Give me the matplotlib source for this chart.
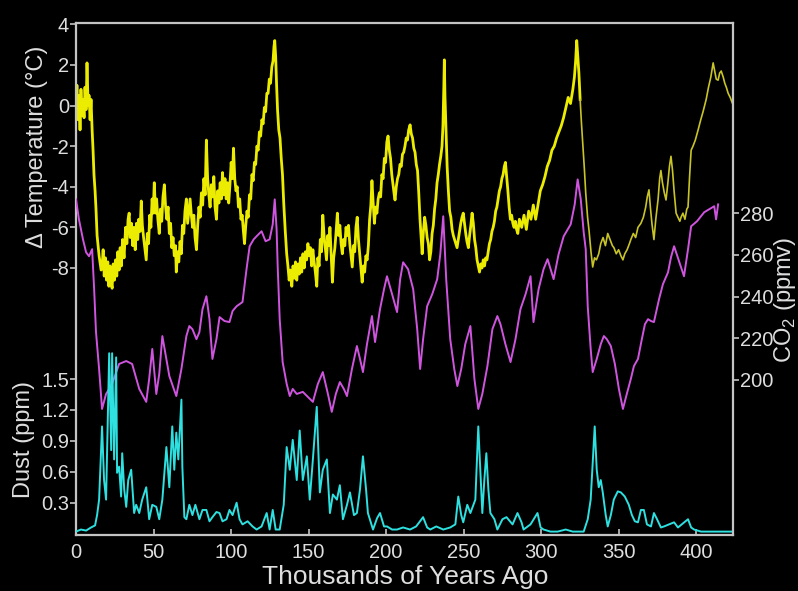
"""
Vostok ice core: temperature, CO2 and dust over the last 420 ky.
Three y scales sharing one frame, black background.
"""
import matplotlib
matplotlib.use("Agg")
import matplotlib.pyplot as plt

plt.rcParams["font.family"] = ["Liberation Sans", "DejaVu Sans"]
plt.rcParams["axes.unicode_minus"] = False

# ── Data ──────────────────────────────────────────────────────────────────────
temp_age = [
    0, 0.6, 1.3, 2.0, 2.6, 3.2, 3.9, 4.5, 5.2, 5.8, 6.5, 7.1, 7.8, 8.4, 9.1, 9.7,
    10.4, 11.0, 11.6, 12.3, 12.9, 13.6, 14.9, 16.2,
    16.8, 17.5, 18.2, 19, 19.7, 20.5, 21.2, 22, 22.7, 23.3, 24, 24.8, 25.5, 26.3,
    27, 27.8, 28.5, 29.3, 30, 31, 32, 32.8, 33.6, 34.3, 35, 35.8, 36.6, 37.4,
    38.2, 39, 39.8, 40.5, 41.3, 42.1, 42.8, 43.6, 44.4, 45.3, 46, 46.8, 47.6,
    48.3, 49.1, 49.8, 50.5, 51.3, 52, 52.8, 53.7, 54.5, 55.3, 56.1, 57, 57.8,
    58.6, 59.4, 60.2, 61, 61.8, 62.6, 63.4, 64.2, 64.7, 65.5, 66.3, 67.1, 67.9,
    68.7, 69.5, 70.3, 71.2, 72, 72.8, 73.6, 74.4, 75.2, 76, 76.8, 77.7, 78.5,
    79.3, 80.1, 80.9, 81.7, 82.5, 83.3, 84.1, 84.9, 85.7, 86.5, 87.3, 88.1,
    88.9, 89.7, 90.6, 91.4, 92.2, 93, 93.8, 94.5, 95.3, 96.1, 96.9, 97.7, 98.5,
    99.3, 100.1, 100.9, 101.6, 102.4, 103.2, 104, 104.8, 105.6, 106.4, 107.2,
    108, 108.7, 109.5, 110.3, 111.1, 111.9, 112.7, 113.5, 114.3, 115.1, 115.9,
    116.7, 117.5, 118.3, 119.1, 119.9, 120.7, 121.5, 122.3, 123.1, 123.9, 124.7,
    125.5, 126.3, 127.1, 127.7, 128.2, 128.8, 129.4, 130, 130.8, 131.6, 132.4,
    133.2, 134, 135, 135.9, 136.7, 137.5, 138.3, 139.2, 140, 140.8, 141.6, 142.4,
    143.2, 144, 144.8, 145.6, 146.4, 147.2, 148, 148.8, 149.6, 150.4, 151.2, 152,
    152.8, 153.6, 154.4, 155.3, 156, 156.8, 157.6, 158.4, 159.2, 160, 160.8,
    161.6, 162.4, 163.2, 163.8, 164.6, 165.4, 166.2, 167, 167.8, 168.6, 169.4,
    170.2, 171, 171.8, 172.6, 173.4, 174.2, 175, 175.8, 176.6, 177.4, 178.2, 179,
    179.8, 180.6, 181.4, 182.2, 183, 183.8, 184.6, 185.4, 186.2, 187, 187.8,
    188.6, 189.4, 190.2, 190.9, 191.7, 192.5, 193.3, 194.1, 194.9, 195.7, 196.5,
    197.3, 198.1, 198.9, 199.7, 200.5, 201.3, 202.1, 202.9, 203.7, 204.5, 205.3,
    205.8, 206.6, 207.4, 208.2, 209, 209.8, 210.6, 211.4, 212.2, 213, 213.8,
    214.6, 215.5, 216.3, 217.1, 217.9, 218.7, 219.5, 220.3, 221.1, 221.9, 222.7,
    223.3, 224.1, 224.9, 225.7, 226.5, 227.3, 228.1, 228.9, 229.7, 230.5, 231.3,
    232.1, 232.9, 233.7, 234.5, 235.3, 236.1, 236.7, 237.3, 237.6, 238.0, 238.6,
    239.4, 240.2, 241, 241.8, 242.6, 243.4, 244.2, 245, 245.8, 246.6, 247.4,
    248.2, 249, 249.8, 250.6, 251.4, 252.2, 253.1, 253.9, 254.7, 255.5, 256.3,
    257.1, 257.9, 258.7, 259.5, 260.3, 261.1, 261.9, 262.7, 263.5, 264.3, 265.1,
    265.9, 266.7, 267.5, 268.3, 269.1, 269.9, 270.7, 271.5, 272.3, 273.1, 273.9,
    274.7, 275.5, 276.3, 277, 277.8, 278.6, 279.4, 280.2, 281, 281.8, 282.6,
    283.4, 284.2, 285, 286, 287.5, 289, 290.5, 292, 293.5, 295, 296.5, 298,
    299.5, 301, 302.5, 304, 305.5, 307, 308.5, 310, 311.5, 313, 314.5, 316,
    317.5, 319, 320.5, 321.5, 322.3, 323, 323.7, 324.4, 325.2,
    326, 327, 328, 328.8, 330, 331, 332.2, 333.3, 334.5, 335.7, 337.2, 338.5,
    340, 341.5, 343, 344.5, 346, 347, 348.5, 350, 351.5, 352.8, 354, 355.5, 357,
    357.9, 359.5, 361, 362.5, 364.4, 366, 367.5, 368.5, 369.6, 370.5, 371.5,
    372.8, 374, 375.5, 376.5, 377.3, 378.3, 379.5, 380.6, 381.8, 382.8, 383.8,
    384.8, 385.8, 387.1, 388.3, 389.5, 390.3, 391.5, 392.8, 394, 394.8, 395.8,
    396.8, 398, 399.5, 401.3, 403, 404.5, 406.5, 408, 409.5, 411, 412, 413,
    414.2, 415.2, 416.2, 417.5, 418.5, 419.5, 420.7, 422, 423.5,
]
temp_c = [
    -0.2, 1.0, -0.7, 0.5, -1.2, 0.8, -0.5, 0.3, -0.6, 0.9, -0.2, 2.1, 0.0, 0.5, -0.7, 0.3,
    -1.2, -2.2, -3.4, -4.2, -5.1, -6.4, -7.4, -8.1,
    -8.0, -7.1, -8.4, -7.5, -8.6, -7.7, -8.9, -7.9, -8.7, -9.0, -7.8, -8.6, -7.6, -8.4,
    -7.2, -8.1, -7.0, -7.9, -6.6, -7.5, -6.0, -6.8, -5.6, -5.3, -6.5, -5.8, -6.9, -6.0,
    -7.1, -5.8, -6.6, -5.6, -6.2, -4.7, -5.9, -6.5, -7.0, -7.6, -6.3, -6.8, -5.4,
    -6.0, -4.6, -5.3, -3.8, -5.3, -4.6, -5.6, -6.3, -5.1, -5.7, -4.5, -3.9, -5.0,
    -5.6, -5.0, -6.3, -5.8, -7.0, -6.5, -7.4, -6.9, -8.2, -7.2, -7.7, -6.7, -7.3,
    -5.9, -6.3, -5.2, -4.6, -5.8, -5.2, -4.6, -5.4, -6.0, -5.4, -6.5, -7.1, -5.9,
    -5.0, -5.5, -4.3, -4.9, -3.6, -4.4, -1.7, -3.6, -4.4, -5.0, -3.9, -4.5,
    -3.5, -5.0, -5.6, -4.2, -4.8, -3.8, -4.6, -3.3, -4.4, -3.6, -4.6, -3.8, -4.8,
    -3.9, -2.8, -3.6, -2.1, -3.6, -4.2, -4.0, -5.0, -4.6, -5.6, -5.4,
    -6.2, -6.8, -5.9, -5.2, -5.5, -4.4, -4.6, -3.4, -3.7, -2.8, -2.9,
    -2.0, -2.2, -1.3, -1.5, -0.7, -0.9, -0.1, -0.3, 0.6, 0.6, 1.3,
    1.1, 1.9, 2.2, 2.9, 3.2, 2.4, 1.0, -0.2, -1.2, -1.6, -2.6,
    -3.4, -4.8, -6.2, -7.3, -7.9, -8.6, -8.1, -8.9, -7.9, -8.5, -7.7, -8.6,
    -7.8, -8.3, -7.5, -8.2, -7.3, -8.0, -7.2, -7.6, -6.8, -7.4, -7.0, -7.9,
    -7.1, -7.7, -8.2, -8.9, -7.5, -7.9, -6.6, -7.2, -5.4, -6.4, -7.0,
    -7.6, -6.4, -6.9, -6.0, -7.3, -8.7, -7.5, -7.0, -6.2, -5.3, -6.4,
    -5.9, -6.8, -7.3, -6.6, -6.9, -6.0, -6.4, -5.9, -6.8, -7.4, -7.95, -6.9,
    -7.2, -6.0, -5.5, -6.6, -7.3, -8.0, -8.7, -7.9, -8.2, -7.4, -7.6,
    -6.9, -5.6, -4.9, -3.7, -4.8, -5.8, -5.0, -5.3, -4.6, -4.3, -4.5,
    -3.4, -3.6, -2.6, -2.8, -1.8, -1.5, -2.2, -2.6, -3.4, -3.9, -4.4,
    -4.65, -4.0, -3.6, -3.4, -2.9, -3.0, -2.4, -2.3, -2.0, -1.6, -1.7,
    -1.2, -0.95, -1.4, -1.6, -2.1, -2.3, -2.9, -3.2, -4.3, -5.6, -6.6,
    -7.3, -6.2, -5.5, -5.9, -6.5, -6.8, -7.6, -7.2, -6.3, -5.9, -5.1,
    -4.6, -3.8, -3.4, -2.9, -2.5, -2.0, -1.0, 1.0, 2.25, 0.5, -1.0,
    -3.0, -4.2, -5.2, -5.5, -6.1, -6.4, -6.6, -6.8, -7.0, -6.6, -6.2,
    -5.8, -5.5, -5.3, -5.8, -6.3, -6.7, -7.0, -6.4, -5.9, -5.3, -5.8,
    -6.6, -7.0, -7.6, -7.9, -8.2, -7.8, -8.0, -7.6, -7.9, -7.5, -7.6,
    -7.2, -6.8, -6.6, -6.2, -6.0, -5.7, -5.2, -5.0, -4.6, -4.2, -4.0,
    -3.6, -3.4, -3.0, -2.8, -3.5, -4.2, -5.0, -5.6, -5.4, -5.8, -6.0,
    -5.7, -6.1, -6.3, -5.6, -6.0, -5.4, -6.1, -5.2, -5.6, -4.9, -5.6, -4.9,
    -4.2, -3.9, -3.5, -3.0, -2.7, -2.2, -2.0, -1.6, -1.3, -1.0, -0.6, -0.1,
    0.4, 0.1, 0.8, 1.4, 2.2, 3.2, 2.4, 1.6, 0.3,
    -0.8, -2.0, -3.2, -4.3, -5.5, -6.2, -7.2, -7.95, -7.5, -7.6, -7.3, -6.8,
    -6.5, -6.9, -6.3, -6.6, -6.9, -7.0, -7.3, -7.1, -7.4, -7.6, -7.3, -7.1, -6.8,
    -6.6, -6.3, -6.5, -6.0, -5.8, -5.5, -5.0, -4.5, -4.15, -5.0, -5.8,
    -6.6, -5.6, -4.6, -3.6, -3.2, -3.8, -4.3, -4.65, -3.8, -3.0, -2.5,
    -3.2, -4.2, -5.3, -5.5, -5.7, -5.5, -5.3, -5.6, -5.1, -5.0, -3.5,
    -2.2, -2.0, -1.7, -1.2, -0.7, -0.3, 0.3, 0.9, 1.4, 2.1, 1.7, 1.3,
    1.25, 1.6, 1.7, 1.4, 1.1, 0.9, 0.6, 0.4, 0.1,
]

co2_age = [
    0, 1.9, 4.5, 6.5, 8.4, 10.4, 11.7, 12.9, 14.9, 16.8, 19.4, 23.3, 27.8, 32.4,
    36.2, 40.8, 45.3, 47.2, 49.2, 51.8, 53.7, 55.7, 58.3, 60.2, 64.7, 68.0, 71.2,
    73.1, 75.1, 77.7, 79.6, 81.6, 84.1, 86.1, 88.0, 90.6, 92.6, 95.8, 99.0, 101.0,
    103.6, 107.4, 110.0, 112.0, 114.6, 116.5, 119.7, 122.3, 124.9, 126.9, 128.2,
    129.4, 130.1, 131.4, 133.3, 135.9, 137.9, 139.8, 142.4, 146.3, 149.5, 152.8,
    156.0, 159.2, 162.5, 165.0, 167.6, 170.2, 172.8, 174.8, 178.0, 181.2, 183.2,
    185.1, 187.7, 190.9, 192.9, 196.1, 198.7, 200.6, 203.9, 207.1, 209.1, 211.0,
    214.2, 217.5, 220.1, 222.0, 223.9, 226.5, 229.8, 233.0, 235.0, 236.9, 238.8,
    241.4, 244.0, 246.0, 248.5, 251.1, 254.4, 257.0, 259.5, 262.1, 265.4, 268.6,
    271.8, 273.8, 277.0, 280.3, 283.5, 286.7, 290.0, 293.2, 295.1, 298.4, 301.6,
    304.2, 308.1, 311.3, 314.6, 317.2, 319.1, 321.7, 323.6, 325.6, 327.5, 328.8,
    330.1, 332.0, 333.3, 335.9, 338.5, 340.5, 342.4, 345.0, 347.6, 350.2, 352.8,
    355.3, 357.9, 359.9, 362.5, 365.0, 367.0, 369.0, 370.9, 372.8, 376.1, 378.6,
    381.9, 383.8, 385.8, 389.0, 392.2, 394.8, 396.8, 400.6, 405.2, 408.4, 411.7,
    412.9, 414.2,
]
co2_ppmv = [
    286.7, 277.1, 267.5, 261.3, 259.4, 262.8, 243.6, 223.0, 205.3, 186.1, 193.3,
    198.1, 207.7, 209.1, 207.7, 195.7, 189.5, 200.5, 214.9, 193.3, 202.9, 221.1,
    210.1, 201.9, 192.3, 205.3, 221.1, 225.9, 224.4, 219.6, 223.0, 234.0, 240.2,
    229.2, 210.1, 219.6, 230.2, 228.3, 227.8, 233.1, 235.4, 237.4, 253.2, 264.2,
    267.5, 269.0, 271.4, 266.6, 267.5, 274.7, 286.7, 272.3, 254.6, 229.2, 208.6,
    198.1, 192.3, 195.7, 193.3, 194.3, 191.9, 189.5, 198.1, 203.8, 193.3, 184.7,
    193.3, 199.0, 195.7, 192.3, 205.3, 216.3, 210.1, 203.8, 217.2, 230.7, 218.2,
    234.0, 243.6, 249.8, 241.2, 232.6, 248.4, 256.5, 253.2, 243.6, 224.4, 205.3,
    219.6, 235.4, 241.2, 248.4, 260.4, 278.6, 248.4, 219.6, 205.3, 197.1, 205.3,
    217.2, 225.9, 200.5, 186.1, 193.3, 206.7, 224.4, 230.7, 226.8, 217.2, 208.6,
    219.6, 234.0, 241.2, 249.8, 227.8, 243.6, 253.2, 258.0, 248.4, 260.4, 269.0,
    272.3, 274.7, 284.3, 296.3, 286.7, 270.9, 262.8, 235.4, 214.9, 203.8, 210.1,
    217.2, 221.1, 219.6, 216.3, 207.7, 195.7, 186.1, 193.3, 200.5, 206.7, 210.1,
    219.6, 226.8, 229.2, 228.3, 227.8, 238.8, 246.0, 251.7, 258.9, 264.2, 257.0,
    249.8, 262.8, 273.8, 276.2, 280.5, 281.9, 283.4, 277.1, 284.3,
]

dust_age = [
    0, 3.2, 6.5, 9.7, 12.3, 13.6, 14.9, 16.8, 18.1, 19.4, 21.4, 22.7, 23.3, 24.6,
    25.9, 26.5, 27.8, 29.1, 29.8, 31.1, 32.4, 33.7, 35.6, 37.5, 38.8, 40.8, 42.7,
    45.3, 47.2, 49.2, 51.8, 53.7, 55.7, 58.3, 60.2, 62.1, 63.4, 64.7, 66.0, 68.0,
    68.6, 69.9, 71.2, 73.1, 75.1, 77.0, 79.6, 81.6, 84.1, 86.1, 88.0, 90.6, 92.6,
    94.5, 97.1, 99.0, 101.0, 103.6, 105.5, 107.4, 110.7, 113.9, 116.5, 119.7,
    123.0, 124.9, 126.9, 128.8, 131.4, 134.0, 135.9, 137.9, 139.8, 142.4, 144.3,
    146.3, 148.9, 150.8, 152.8, 155.3, 157.3, 159.2, 161.8, 163.8, 165.7, 168.3,
    170.2, 172.2, 174.8, 176.7, 179.3, 181.2, 183.2, 185.1, 187.1, 188.3, 191.6,
    194.2, 196.1, 198.7, 200.6, 203.9, 207.1, 211.0, 215.5, 219.4, 223.9, 226.5,
    228.5, 232.4, 236.9, 241.4, 244.7, 246.6, 248.5, 249.8, 252.4, 254.4, 257.6,
    259.5, 260.8, 262.1, 263.4, 264.7, 266.0, 267.3, 269.9, 271.8, 275.1, 277.7,
    281.6, 284.8, 287.4, 288.7, 293.2, 297.7, 299.7, 301.6, 306.1, 310.7, 315.9,
    320.4, 327.5, 330.1, 332.0, 334.6, 335.9, 337.2, 338.5, 339.8, 341.7, 343.0,
    345.0, 346.9, 349.5, 351.5, 354.0, 356.6, 358.6, 360.5, 362.5, 364.4, 366.3,
    368.3, 370.9, 372.8, 374.8, 377.3, 379.3, 382.5, 385.8, 388.3, 391.6, 394.8,
    396.8, 398.7, 403.2, 409.7, 416.2, 422.6,
]
dust_ppm = [
    0.02, 0.04, 0.03, 0.06, 0.08, 0.18, 0.33, 1.04, 0.52, 0.33, 1.75, 0.81, 1.75,
    0.72, 1.71, 0.59, 0.65, 0.36, 0.78, 0.43, 0.26, 0.52, 0.62, 0.20, 0.28, 0.20,
    0.33, 0.45, 0.14, 0.28, 0.26, 0.14, 0.33, 0.84, 0.45, 1.04, 0.62, 0.98, 0.72,
    1.30, 0.65, 0.16, 0.14, 0.28, 0.18, 0.28, 0.14, 0.23, 0.23, 0.12, 0.16, 0.21,
    0.20, 0.12, 0.14, 0.23, 0.18, 0.30, 0.14, 0.09, 0.12, 0.07, 0.04, 0.07, 0.20,
    0.04, 0.23, 0.04, 0.04, 0.28, 0.84, 0.62, 0.91, 0.52, 1.00, 0.52, 0.75, 0.33,
    0.72, 1.23, 0.40, 0.62, 0.72, 0.20, 0.38, 0.33, 0.47, 0.14, 0.28, 0.40, 0.18,
    0.20, 0.43, 0.75, 0.43, 0.20, 0.04, 0.15, 0.20, 0.07, 0.07, 0.04, 0.04, 0.06,
    0.04, 0.07, 0.16, 0.06, 0.04, 0.07, 0.04, 0.06, 0.09, 0.36, 0.18, 0.11, 0.28,
    0.20, 0.33, 1.04, 0.62, 0.20, 0.52, 0.78, 0.43, 0.20, 0.14, 0.04, 0.14, 0.16,
    0.09, 0.20, 0.11, 0.04, 0.09, 0.20, 0.06, 0.04, 0.02, 0.02, 0.04, 0.02, 0.02,
    0.14, 0.33, 1.04, 0.62, 0.45, 0.52, 0.40, 0.18, 0.07, 0.18, 0.33, 0.41, 0.40,
    0.36, 0.28, 0.18, 0.12, 0.11, 0.23, 0.23, 0.09, 0.07, 0.20, 0.14, 0.06, 0.07,
    0.09, 0.11, 0.06, 0.10, 0.14, 0.06, 0.04, 0.02, 0.02, 0.02, 0.02,
]

x_ticks = [0, 50, 100, 150, 200, 250, 300, 350, 400]
temp_ticks = [4, 2, 0, -2, -4, -6, -8]
co2_ticks = [200, 220, 240, 260, 280]
dust_ticks = [0.3, 0.6, 0.9, 1.2, 1.5]

# ── Style ─────────────────────────────────────────────────────────────────────
BG = "black"
FG = "#dedede"
SPINE = "#c4c4c4"
YELLOW = "#ecec00"
YELLOW_DIM = "#c8c428"
MAGENTA = "#cf55df"
CYAN = "#2ee0e0"
SPLIT = 325.2  # older part of the temperature record is drawn thinner

fig = plt.figure(figsize=(7.98, 5.91), dpi=100, facecolor=BG)
rect = [76 / 798, 1 - 535 / 591, (733.3 - 76) / 798, (535 - 22.7) / 591]
ax_t = fig.add_axes(rect)
ax_t.set_facecolor(BG)
ax_c = ax_t.twinx()
ax_d = ax_t.twinx()

# temperature (left, upper)
young = [i for i, a in enumerate(temp_age) if a <= SPLIT]
old = [i for i, a in enumerate(temp_age) if a >= SPLIT]
ax_t.plot([temp_age[i] for i in young], [temp_c[i] for i in young],
          color=YELLOW, lw=2.0)
ax_t.plot([temp_age[i] for i in old], [temp_c[i] for i in old],
          color=YELLOW_DIM, lw=1.2)
ax_t.set_xlim(0, 424)
ax_t.set_ylim(-21.15, 4.08)

# CO2 (right)
ax_c.plot(co2_age, co2_ppmv, color=MAGENTA, lw=1.4)
ax_c.set_ylim(125.6, 371.5)

# dust (left, lower)
ax_d.plot(dust_age, dust_ppm, color=CYAN, lw=1.4)
ax_d.set_ylim(-0.013, 4.956)
ax_d.yaxis.tick_left()

for ax in (ax_c, ax_d):
    for s in ax.spines.values():
        s.set_visible(False)
for s in ax_t.spines.values():
    s.set_color(SPINE)
    s.set_linewidth(1.6)

ax_t.set_xticks(x_ticks)
ax_t.set_yticks(temp_ticks)
ax_c.set_yticks(co2_ticks)
ax_d.set_yticks(dust_ticks)

ax_t.tick_params(axis="x", direction="in", length=4, width=1.2, color=SPINE,
                 labelcolor=FG, labelsize=14.5, pad=6)
for ax in (ax_t, ax_c, ax_d):
    ax.tick_params(axis="y", direction="out", length=4, width=1.2, color=SPINE,
                   labelcolor=FG, labelsize=14.5, pad=1)

# axis titles
fig.text(405 / 798, 1 - 577 / 591, "Thousands of Years Ago", color=FG,
         fontsize=19, ha="center", va="center")
fig.text(37 / 798, 1 - 147 / 591, "Δ Temperature (°C)", color=FG,
         fontsize=17, rotation=90, ha="center", va="center")
fig.text(24 / 798, 1 - 440 / 591, "Dust (ppm)", color=FG,
         fontsize=17, rotation=90, ha="center", va="center")
fig.text(785 / 798, 1 - 300 / 591, "CO$_{\\mathregular{2}}$ (ppmv)", color=FG,
         fontsize=17, rotation=90, ha="center", va="center")

fig.savefig("out.png", dpi=100, facecolor=BG)
